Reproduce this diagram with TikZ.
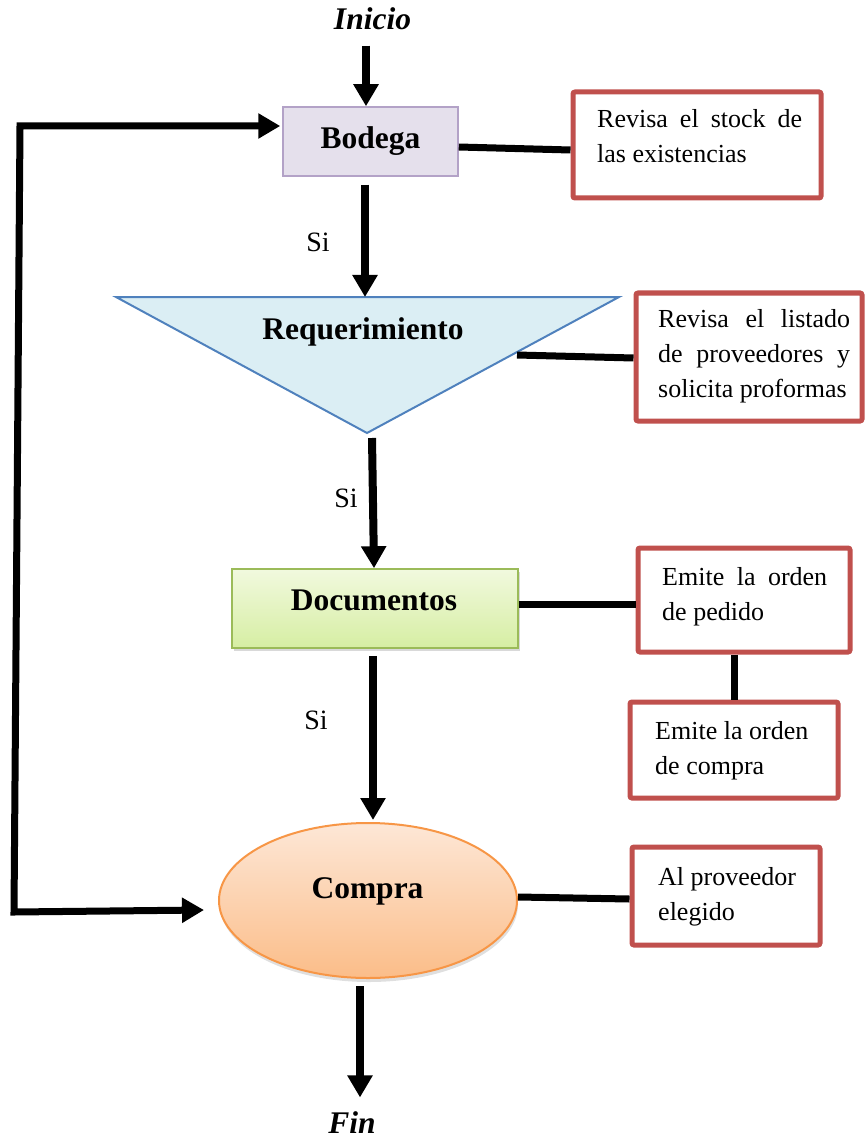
\documentclass[tikz,border=0pt]{standalone}
\usepackage{fontspec}
\setmainfont{Liberation Serif}
\usetikzlibrary{arrows.meta,shadows,calc,shapes.geometric}
\definecolor{redb}{HTML}{C0504D}
\definecolor{bodfill}{HTML}{E5E0EC}
\definecolor{boddraw}{HTML}{B3A2C7}
\definecolor{trifill}{HTML}{DBEEF4}
\definecolor{tridraw}{HTML}{4F81BD}
\definecolor{doctop}{HTML}{F1F9DE}
\definecolor{docbot}{HTML}{D6EEA3}
\definecolor{docdraw}{HTML}{9BBB59}
\definecolor{comtop}{HTML}{FDE7D6}
\definecolor{combot}{HTML}{FBBD89}
\definecolor{comdraw}{HTML}{F79646}
\begin{document}
\begin{tikzpicture}[x=1pt,y=-1pt,
  arr/.style={line width=8pt,-{Triangle[width=24pt,length=22pt]}},
  loopline/.style={line width=7pt,line join=miter,{Triangle[width=24pt,length=22pt]}-{Triangle[width=24pt,length=22pt]}},
  conn/.style={line width=7pt},
  rbox/.style={draw=redb,line width=5pt,rounded corners=2pt,fill=white,inner sep=0pt},
  txt/.style={inner sep=0pt,font=\fontsize{26}{35}\selectfont},
  jtxt/.style={txt,align=justify},
  ttl/.style={inner sep=0pt,font=\fontsize{31.5}{36}\selectfont\bfseries},
  si/.style={inner sep=0pt,font=\fontsize{28}{32}\selectfont}
]
\useasboundingbox (0,0) rectangle (865,1139);

% main nodes
\node[ttl,font=\fontsize{31.5}{36}\selectfont\bfseries\itshape,anchor=base] (inicio) at (372.5,30) {Inicio};
\node[draw=boddraw,fill=bodfill,line width=1.5pt,minimum width=175pt,minimum height=69pt,
      inner sep=0pt,font=\fontsize{31.5}{36}\selectfont\bfseries] (bodega) at (370.5,141.5) {Bodega};

\coordinate (tl) at (116,297);
\coordinate (tr) at (619,297);
\coordinate (tb) at (367,433);
\coordinate (tt) at (365,297);
\coordinate (tm) at (517,355);
\draw[fill=trifill,draw=tridraw,line width=2pt,line join=miter] (tl) -- (tr) -- (tb) -- cycle;
\node[ttl,anchor=base] (req) at (363,339) {Requerimiento};

\node[draw=docdraw,line width=1.5pt,top color=doctop,bottom color=docbot,
      minimum width=286pt,minimum height=79pt,inner sep=0pt,
      drop shadow={shadow xshift=2pt,shadow yshift=-3pt,opacity=0.3}] (docs) at (375,608.5) {};
\node[ttl,anchor=base] (docsT) at (374,610) {Documentos};

\node[ellipse,draw=comdraw,line width=2pt,top color=comtop,bottom color=combot,
      minimum width=298pt,minimum height=155pt,inner sep=0pt,
      drop shadow={shadow xshift=1pt,shadow yshift=-4pt,opacity=0.25}] (compra) at (368,900.5) {};
\node[ttl,anchor=base] (compraT) at (367.5,898) {Compra};

\node[ttl,font=\fontsize{31.5}{36}\selectfont\bfseries\itshape,anchor=base] (fin) at (352,1133) {Fin};

% red note boxes
\node[rbox,minimum width=248pt,minimum height=106pt] (b1) at (697,145) {};
\node[jtxt,text width=205pt,anchor=base west] (t1) at (597,128) {Revisa el stock de\linebreak las existencias};

\node[rbox,minimum width=226pt,minimum height=128pt] (b2) at (749,357) {};
\node[jtxt,text width=192pt,anchor=base west] (t2) at (658,327) {Revisa el listado\linebreak de proveedores y\linebreak solicita proformas};

\node[rbox,minimum width=212pt,minimum height=104pt] (b3) at (744,600) {};
\node[jtxt,text width=165pt,anchor=base west] (t3) at (662,585) {Emite la orden\linebreak de pedido};

\node[rbox,minimum width=208pt,minimum height=96pt] (b4) at (734,750) {};
\node[txt,align=flush left,text width=170pt,anchor=base west] (t4) at (655,739) {Emite la orden\\de compra};

\node[rbox,minimum width=188pt,minimum height=98pt] (b5) at (726,896) {};
\node[txt,align=flush left,text width=150pt,anchor=base west] (t5) at (658,885) {Al proveedor\\elegido};

% Si labels
\node[si] (si1) at (318,242) {Si};
\node[si] (si2) at (346,498) {Si};
\node[si] (si3) at (316,720) {Si};

% arrows
\draw[arr] ($(inicio.south)+(-6.5,15)$) -- ($(bodega.north)+(-4.5,0)$);
\draw[arr] ($(bodega.south)+(-5.5,8)$) -- (tt);
\draw[arr] ($(tb)+(5,5)$) -- ($(docs.north)+(-1,0)$);
\draw[arr] ($(docs.south)+(-2,7)$) -- ($(compra.north)+(5,-2)$);
\draw[arr] ($(compra.south)+(-8,7)$) -- ($(fin.north)+(8,-13.5)$);

% side connectors
\draw[conn] ($(bodega.east)+(0,5.5)$) -- ($(b1.west)+(0,5)$);
\draw[conn] (tm) -- ($(b2.west)+(0,1)$);
\draw[conn] ($(docs.east)+(0,-4.5)$) -- ($(b3.west)+(0,4)$);
\draw[conn] ($(b3.south)+(-10,0)$) -- (b4.north);
\draw[conn] ($(compra.east)+(0,-3.5)$) -- ($(b5.west)+(0,3)$);

% feedback loop
\coordinate (lb) at (14,912);
\coordinate (lt) at (20,126);
\draw[loopline] ($(compra.west)+(-14,9.5)$) -- (lb) -- (lt) -- ($(bodega.west)+(-2,-15.5)$);
\end{tikzpicture}
\end{document}
